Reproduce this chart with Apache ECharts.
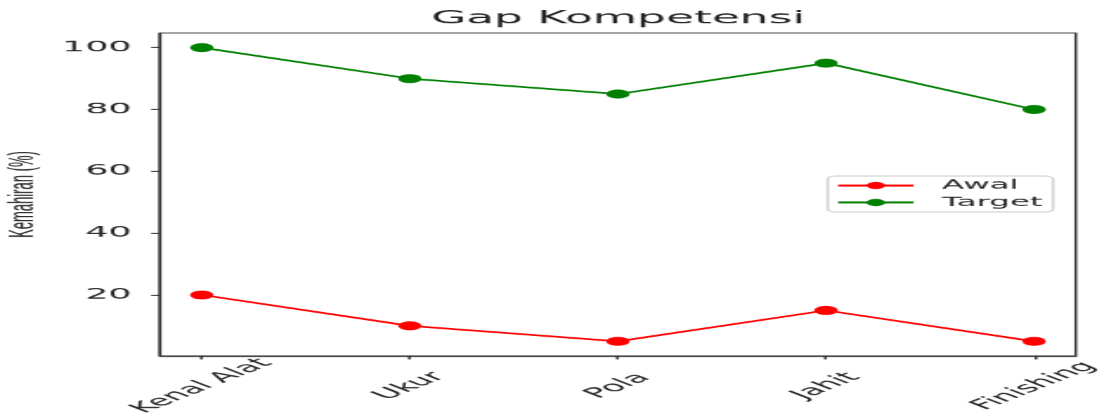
<!DOCTYPE html>
<html>
<head>
<meta charset="utf-8">
<script src="https://cdn.jsdelivr.net/npm/echarts@6/dist/echarts.min.js"></script>
<style>
  html, body { margin: 0; padding: 0; background: #fff; overflow: hidden; }
  /* the reference is a narrow plot stretched sideways, so draw narrow and stretch */
  #chart { width: 425px; height: 418px; transform: scaleX(2.5976); transform-origin: 0 0; }
</style>
</head>
<body>
<div id="chart"></div>
<script>
var categories = ["Kenal Alat", "Ukur", "Pola", "Jahit", "Finishing"];
var awal = [20, 10, 5, 15, 5];
var target = [100, 90, 85, 95, 80];
var yTicks = [20, 40, 60, 80, 100];
var xTicks = [0, 1, 2, 3, 4];

function toPoints(values) {
  return values.map(function (v, i) { return [i, v]; });
}

var axisColor = "#333";
var textColor = "#262626";

var chart = echarts.init(document.getElementById("chart"), null, { devicePixelRatio: 1.5 });
var option = {
  animation: false,
  backgroundColor: "#fff",
  title: {
    text: "Gap Kompetensi",
    left: 237.7,
    top: 9.5,
    textAlign: "center",
    padding: 0,
    textStyle: { fontFamily: "DejaVu Sans", fontSize: 17.5, fontWeight: "normal", color: "#222" },
  },
  legend: {
    orient: "vertical",
    left: 318.4,
    top: 176,
    data: ["Awal", "Target"],
    itemWidth: 29,
    itemHeight: 9,
    itemGap: 4,
    padding: [3, 4, 3, 3],
    borderColor: "#d0d0d0",
    borderWidth: 1,
    borderRadius: 3,
    textStyle: { fontFamily: "DejaVu Sans", fontSize: 12.5, color: textColor, padding: [0, 0, 0, 6] },
  },
  grid: {
    left: 61.6,
    right: 11.2,
    top: 33,
    bottom: 62,
    show: true,
    borderColor: axisColor,
    borderWidth: 1,
    outerBoundsMode: "none",
  },
  xAxis: {
    type: "value",
    min: -0.2,
    max: 4.2,
    axisLine: { show: true, onZero: false, lineStyle: { color: axisColor, width: 1 } },
    axisTick: { show: true, length: 3.5, customValues: xTicks, lineStyle: { color: axisColor } },
    axisLabel: {
      customValues: xTicks,
      formatter: function (v) { return categories[Math.round(v)]; },
      rotate: 45,
      align: "center",
      verticalAlign: "middle",
      margin: 30,
      fontFamily: "DejaVu Sans",
      fontSize: 14,
      color: textColor,
    },
    splitLine: { show: false },
  },
  yAxis: {
    type: "value",
    min: 0.25,
    max: 104.75,
    name: "Kemahiran (%)",
    nameLocation: "middle",
    nameGap: 46,
    nameMoveOverlap: false,
    nameRotate: 90,
    nameTextStyle: { fontFamily: "Liberation Sans", fontSize: 13, color: "#222" },
    axisLine: { show: true, onZero: false, lineStyle: { color: axisColor, width: 1 } },
    axisTick: { show: true, length: 3.5, customValues: yTicks, lineStyle: { color: axisColor } },
    axisLabel: { customValues: yTicks, margin: 11, fontFamily: "DejaVu Sans", fontSize: 14, color: textColor },
    splitLine: { show: false },
  },
  series: [
    {
      name: "Awal",
      type: "line",
      data: toPoints(awal),
      symbol: "circle",
      symbolSize: 9,
      lineStyle: { color: "#ff0000", width: 1.7 },
      itemStyle: { color: "#ff0000" },
    },
    {
      name: "Target",
      type: "line",
      data: toPoints(target),
      symbol: "circle",
      symbolSize: 9,
      lineStyle: { color: "#008000", width: 1.7 },
      itemStyle: { color: "#008000" },
    },
  ],
};
chart.setOption(option);
</script>
</body>
</html>
